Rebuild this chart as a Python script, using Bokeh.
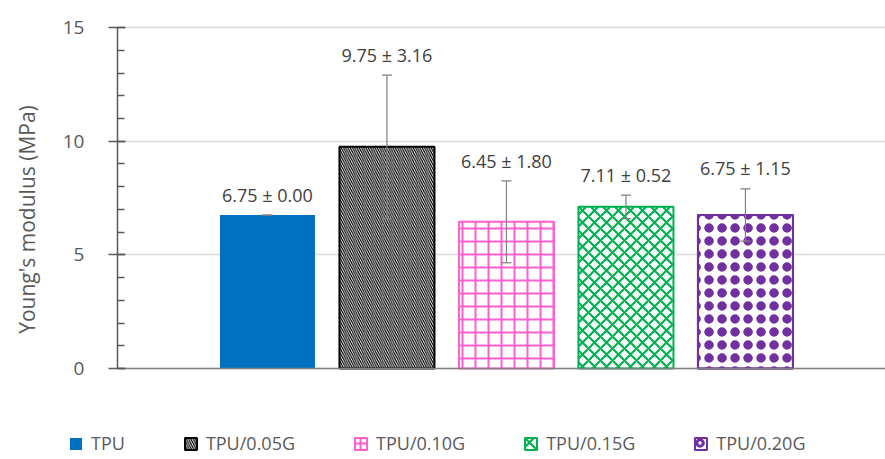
import math
from bokeh.plotting import figure
from bokeh.models import (ColumnDataSource, Range1d, FixedTicker, Whisker, TeeHead,
                          LabelSet, Label, Legend, LegendItem)
from bokeh.core.properties import value
from bokeh.embed import file_html
from bokeh.resources import INLINE

# ---- data ----
groups = ["TPU", "TPU/0.05G", "TPU/0.10G", "TPU/0.15G", "TPU/0.20G"]
means = [6.75, 9.75, 6.45, 7.11, 6.75]
errors = [0.00, 3.16, 1.80, 0.52, 1.15]
y_ticks = [0, 5, 10, 15]
y_title = "Young's modulus (MPa)"

# ---- styles ----
fill_colors = ["#0070C0", "white", "white", "white", "white"]
line_colors = ["#0070C0", "#000000", "#FF5FCF", "#00B050", "#7030A0"]
hatch_patterns = [" ", "\\", "+", "x", "o"]
hatch_colors = ["#0070C0", "#000000", "#FF5FCF", "#00B050", "#7030A0"]
hatch_scales = [6, 4.5, 13, 12, 13]
hatch_weights = [1, 1.2, 2, 2.2, 3]

xpos = [i + 1 for i in range(len(groups))]
labels = ["%.2f \u00b1 %.2f" % (m, e) for m, e in zip(means, errors)]
src = ColumnDataSource(dict(
    x=xpos, top=means, err=errors,
    lower=[m - e for m, e in zip(means, errors)],
    upper=[m + e for m, e in zip(means, errors)],
    lab=labels,
    laby=[m + e + 0.9 for m, e in zip(means, errors)],
))

FONT = "Open Sans"
GRAY = "#595959"
X0, X1 = -1.234, 6.172     # visible x extent
XAXIS = -0.255             # where the value axis sits
Y0, Y1 = -3.83, 16.19

p = figure(width=885, height=455, output_backend="svg", toolbar_location=None,
           x_range=Range1d(X0, X1), y_range=Range1d(Y0, Y1),
           min_border_left=0, min_border_right=0, min_border_top=0,
           min_border_bottom=0)
p.outline_line_color = None
p.background_fill_color = "white"

renderers = []
for i, g in enumerate(groups):
    r = p.vbar(x=[xpos[i]], top=[means[i]], bottom=0, width=0.795,
               fill_color=fill_colors[i], line_color=line_colors[i],
               line_width=2 if i > 0 else 0,
               hatch_pattern=hatch_patterns[i], hatch_color=hatch_colors[i],
               hatch_scale=hatch_scales[i], hatch_weight=hatch_weights[i])
    renderers.append(r)
    if hatch_patterns[i] == "o":
        # fill the centre of each ring so the pattern reads as solid dots
        p.vbar(x=[xpos[i]], top=[means[i]], bottom=0, width=0.795,
               fill_alpha=0, line_color=line_colors[i], line_width=2,
               hatch_pattern=".", hatch_color=hatch_colors[i],
               hatch_scale=hatch_scales[i], hatch_weight=1)

w = Whisker(source=src, base="x", lower="lower", upper="upper",
            line_color="#7F7F7F", line_width=1.2, level="annotation",
            upper_head=TeeHead(size=10, line_color="#7F7F7F", line_width=1.2),
            lower_head=TeeHead(size=10, line_color="#7F7F7F", line_width=1.2))
p.add_layout(w)

ls = LabelSet(source=src, x="x", y="laby", text="lab", text_align="center",
              text_baseline="middle", text_font_size="18px", text_color="#404040",
              text_font=value(FONT))
p.add_layout(ls)

p.add_layout(Label(x=26, y=236, x_units="screen", y_units="screen", text=y_title,
                   angle=math.pi / 2, text_align="center", text_baseline="middle",
                   text_font=FONT, text_font_size="21px", text_color=GRAY))

# value axis
ya = p.yaxis[0]
ya.fixed_location = XAXIS
ya.bounds = (0, 15)
ya.ticker = FixedTicker(ticks=y_ticks, minor_ticks=list(range(0, 16)))
ya.major_label_text_font = FONT
ya.major_label_text_font_size = "19px"
ya.major_label_text_color = GRAY
ya.major_label_standoff = 24
ya.axis_line_color = GRAY
ya.axis_line_width = 1.5
ya.major_tick_line_color = GRAY
ya.major_tick_line_width = 1.5
ya.major_tick_in = 8
ya.major_tick_out = 9
ya.minor_tick_line_color = GRAY
ya.minor_tick_line_width = 1.5
ya.minor_tick_in = 7
ya.minor_tick_out = 0

# category baseline
xa = p.xaxis[0]
xa.fixed_location = 0
xa.bounds = (XAXIS, X1)
xa.ticker = FixedTicker(ticks=[])
xa.major_label_text_alpha = 0
xa.major_tick_line_color = None
xa.minor_tick_line_color = None
xa.axis_line_color = "#808080"
xa.axis_line_width = 1.5

p.xgrid.visible = False
p.ygrid.grid_line_color = "#D9D9D9"
p.ygrid.grid_line_width = 1.5
p.ygrid.cross_bounds = (XAXIS, X1)

legend = Legend(items=[LegendItem(label=g, renderers=[r]) for g, r in zip(groups, renderers)],
                orientation="horizontal", location=(68, 0),
                glyph_width=15, glyph_height=15, label_standoff=8, spacing=58,
                label_text_font=FONT, label_text_font_size="18px",
                label_text_color=GRAY, border_line_color=None,
                background_fill_alpha=0, padding=0, margin=0)
p.add_layout(legend, "center")

open("out.html", "w").write(file_html(p, INLINE))
